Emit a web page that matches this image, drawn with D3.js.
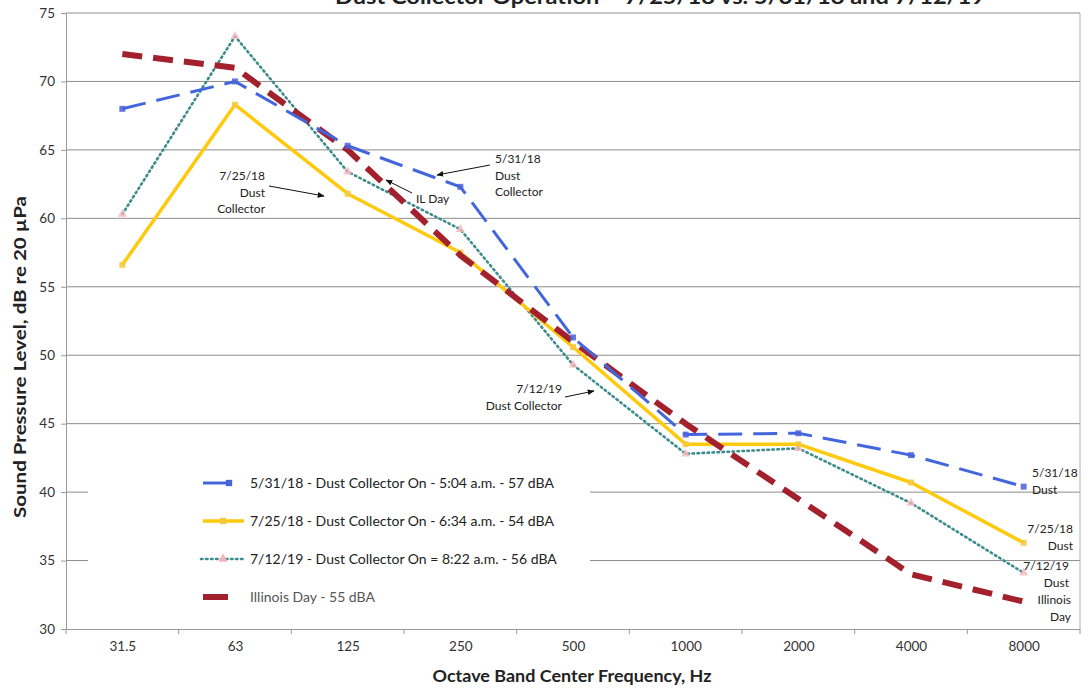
<!DOCTYPE html>
<html>
<head>
<meta charset="utf-8">
<script src="https://cdn.jsdelivr.net/npm/d3@7"></script>
<style>
  body { margin: 0; background: #fff; }
  text { font-family: Lato, "Open Sans", sans-serif; }
</style>
</head>
<body>
<div id="chart"></div>
<script>
// octave band data, dB re 20 uPa
var freqs = ["31.5", "63", "125", "250", "500", "1000", "2000", "4000", "8000"];
var dc053118 = [68.0, 70.0, 65.3, 62.3, 51.3, 44.2, 44.3, 42.7, 40.4];
var dc072518 = [56.6, 68.3, 61.8, 57.5, 50.6, 43.5, 43.5, 40.7, 36.3];
var dc071219 = [60.3, 73.3, 63.4, 59.2, 49.3, 42.8, 43.2, 39.2, 34.1];
var ilDay = [72.0, 71.0, 65.0, 57.3, 51.0, 45.0, 39.5, 34.0, 32.0];
var yTicks = [30, 35, 40, 45, 50, 55, 60, 65, 70, 75];
var legendLabels = [
  "5/31/18 - Dust Collector On - 5:04 a.m. - 57 dBA",
  "7/25/18 - Dust Collector On - 6:34 a.m. - 54 dBA",
  "7/12/19 - Dust Collector On = 8:22 a.m. - 56 dBA",
  "Illinois Day - 55 dBA"
];

var W = 1090, H = 689;
var margin = { top: 13, right: 10, bottom: 60, left: 66 },
    width = W - margin.left - margin.right,
    height = H - margin.top - margin.bottom;

var svg = d3.select("#chart").append("svg")
    .attr("width", W).attr("height", H);

// arrow head for callouts
svg.append("defs").append("marker")
    .attr("id", "arr").attr("viewBox", "0 0 10 10")
    .attr("refX", 9).attr("refY", 5)
    .attr("markerWidth", 7).attr("markerHeight", 7)
    .attr("orient", "auto")
    .append("path").attr("d", "M0,1 L10,5 L0,9 z").attr("fill", "#111");

// title (cut off at top in the source image)
svg.append("text")
    .attr("x", 660).attr("y", 4)
    .attr("text-anchor", "middle")
    .attr("font-size", 20).attr("font-weight", "bold")
    .attr("textLength", 650).attr("lengthAdjust", "spacingAndGlyphs")
    .attr("fill", "#222")
    .text("Dust Collector Operation \u2013 7/25/18 vs. 5/31/18 and 7/12/19");

var g = svg.append("g")
    .attr("transform", "translate(" + margin.left + "," + margin.top + ")");

var x = d3.scalePoint().domain(freqs).range([0, width]).padding(0.5);
var xb = d3.scaleBand().domain(freqs).range([0, width]);
var y = d3.scaleLinear().domain([30, 75]).range([height, 0]);

// gridlines
g.append("g")
    .selectAll("line")
    .data(yTicks.filter(function (d) { return d > 30; }))
    .enter().append("line")
    .attr("x1", 0).attr("x2", width)
    .attr("y1", function (d) { return y(d); })
    .attr("y2", function (d) { return y(d); })
    .attr("stroke", "#8c8c8c").attr("stroke-width", 1);

// right border of plot area
g.append("line")
    .attr("x1", width).attr("x2", width)
    .attr("y1", 0).attr("y2", height)
    .attr("stroke", "#b0b0b0");

// Y axis
var yAxis = g.append("g")
    .call(d3.axisLeft(y).tickValues(yTicks).tickSize(5).tickPadding(6));
yAxis.select(".domain").attr("stroke", "#999");
yAxis.selectAll(".tick line").attr("stroke", "#999");
yAxis.selectAll("text").attr("font-size", 13.5).attr("fill", "#333");

// X axis with ticks between categories
var xAxis = g.append("g")
    .attr("transform", "translate(0," + height + ")")
    .call(d3.axisBottom(x).tickSize(0).tickPadding(12));
xAxis.select(".domain").attr("stroke", "#999");
xAxis.selectAll("text").attr("font-size", 13.5).attr("fill", "#333");
xAxis.selectAll(".sep")
    .data(freqs.concat(["end"]))
    .enter().append("line")
    .attr("x1", function (d, i) { return i * xb.bandwidth(); })
    .attr("x2", function (d, i) { return i * xb.bandwidth(); })
    .attr("y1", 0).attr("y2", 5)
    .attr("stroke", "#999");

// axis titles
svg.append("text")
    .attr("transform", "translate(26,357) rotate(-90)")
    .attr("text-anchor", "middle")
    .attr("font-size", 17.5).attr("font-weight", "bold").attr("fill", "#222")
    .attr("textLength", 322).attr("lengthAdjust", "spacingAndGlyphs")
    .text("Sound Pressure Level, dB re 20 \u00b5Pa");
svg.append("text")
    .attr("x", 572).attr("y", 682)
    .attr("text-anchor", "middle")
    .attr("font-size", 17.5).attr("font-weight", "bold").attr("fill", "#222")
    .attr("textLength", 279).attr("lengthAdjust", "spacingAndGlyphs")
    .text("Octave Band Center Frequency, Hz");

// legend background hides gridlines behind it
svg.append("rect")
    .attr("x", 88).attr("y", 445).attr("width", 502).attr("height", 168)
    .attr("fill", "#fff");

var series = [
  { vals: dc071219, color: "#3d8c8c", width: 2.6, dash: "1.5,3.5", cap: "round", mark: "tri", mcol: "#f2b6bc" },
  { vals: dc072518, color: "#ffc90e", width: 3.5, dash: null, cap: "butt", mark: "sq", mcol: "#f5c842" },
  { vals: ilDay, color: "#a3212c", width: 6, dash: "20,11", cap: "butt", mark: null, mcol: null },
  { vals: dc053118, color: "#4466dd", width: 3, dash: "24,11", cap: "butt", mark: "sq", mcol: "#4a63d8" }
];

var line = d3.line()
    .x(function (d, i) { return x(freqs[i]); })
    .y(function (d) { return y(d); });

series.forEach(function (s) {
  g.append("path")
      .datum(s.vals)
      .attr("fill", "none")
      .attr("stroke", s.color)
      .attr("stroke-width", s.width)
      .attr("stroke-linecap", s.cap)
      .attr("stroke-linejoin", "round")
      .attr("stroke-dasharray", s.dash)
      .attr("d", line);
  if (s.mark) {
    g.append("g").selectAll("path")
        .data(s.vals)
        .enter().append("path")
        .attr("transform", function (d, i) {
          return "translate(" + x(freqs[i]) + "," + y(d) + ")";
        })
        .attr("d", d3.symbol().type(s.mark === "sq" ? d3.symbolSquare : d3.symbolTriangle).size(s.mark === "sq" ? 36 : 36))
        .attr("fill", s.mcol)
        .attr("opacity", s.mark === "sq" ? 0.85 : 0.8);
  }
});

// legend entries (short sample strokes like the source)
var legendOrder = [series[3], series[1], series[0], series[2]];
var sampleX = [[203, 230], [203, 244], [201, 243], [203, 228]];
var legend = svg.append("g");
legendOrder.forEach(function (s, i) {
  var ly = 483 + i * 38;
  legend.append("line")
      .attr("x1", sampleX[i][0]).attr("x2", sampleX[i][1])
      .attr("y1", ly).attr("y2", ly)
      .attr("stroke", s.color)
      .attr("stroke-width", s.width)
      .attr("stroke-linecap", s.cap)
      .attr("stroke-dasharray", i === 2 ? s.dash : null);
  if (s.mark) {
    legend.append("path")
        .attr("transform", "translate(" + (i === 0 ? 229 : 223) + "," + ly + ")")
        .attr("d", d3.symbol().type(s.mark === "sq" ? d3.symbolSquare : d3.symbolTriangle).size(40))
        .attr("fill", s.mcol);
  }
  legend.append("text")
      .attr("x", 250).attr("y", ly + 5)
      .attr("font-size", 14)
      .attr("fill", i === 3 ? "#555" : "#222")
      .text(legendLabels[i]);
});

// callout text + arrows
function callout(lines, tx, ty, anchor, arrow) {
  var t = svg.append("text")
      .attr("font-size", 12).attr("fill", "#222")
      .attr("text-anchor", anchor);
  lines.forEach(function (l, i) {
    t.append("tspan").attr("x", tx).attr("y", ty + i * 16.5).text(l);
  });
  if (arrow) {
    svg.append("line")
        .attr("x1", arrow[0]).attr("y1", arrow[1])
        .attr("x2", arrow[2]).attr("y2", arrow[3])
        .attr("stroke", "#111").attr("stroke-width", 1)
        .attr("marker-end", "url(#arr)");
  }
}
callout(["7/25/18", "Dust", "Collector"], 265, 180, "end", [269, 186, 324, 196]);
callout(["5/31/18", "Dust", "Collector"], 495, 163, "start", [490, 165, 437, 175]);
callout(["IL Day"], 416, 203, "start", [412, 193, 386, 180]);
callout(["7/12/19", "Dust Collector"], 562, 393, "end", [565, 397, 594, 391]);
callout(["5/31/18", "Dust"], 1032, 477, "start", null);
callout(["7/25/18", "Dust"], 1073, 533, "end", null);
callout(["7/12/19", "Dust"], 1069, 570, "end", null);
callout(["Illinois", "Day"], 1071, 604, "end", null);
</script>
</body>
</html>
